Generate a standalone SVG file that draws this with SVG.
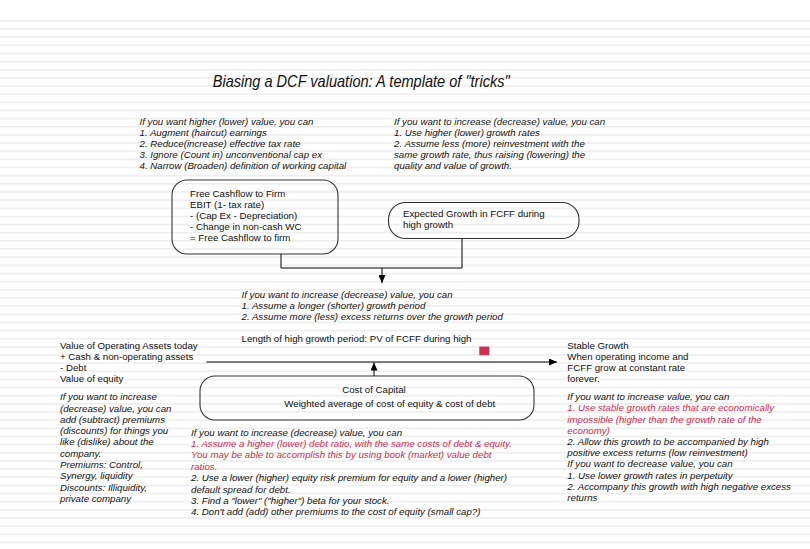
<svg xmlns="http://www.w3.org/2000/svg" width="810" height="549" viewBox="0 0 810 549">
<defs>
<pattern id="stripes" x="0" y="20" width="810" height="8.15" patternUnits="userSpaceOnUse">
<rect x="0" y="0" width="810" height="1.6" fill="#ededed"/>
</pattern>
<marker id="arr" markerUnits="userSpaceOnUse" markerWidth="8" markerHeight="7" refX="8" refY="3.5" orient="auto">
<path d="M0,0 L8,3.5 L0,7 Z" fill="#000"/>
</marker>
<style>
text{font-family:"Liberation Sans",Arial,sans-serif;font-size:9.7px;fill:#111}
.it{font-style:italic}
.red{fill:#cf2a4e}
.box{fill:none;stroke:#333;stroke-width:1.1}
.con{fill:none;stroke:#000;stroke-width:1}
</style>
</defs>
<rect x="0" y="0" width="810" height="549" fill="#fff"/>
<rect x="0" y="20" width="810" height="526" fill="url(#stripes)"/>

<text x="212.7" y="87.3" class="it" style="font-size:17px" textLength="297" lengthAdjust="spacingAndGlyphs">Biasing a DCF valuation: A template of "tricks"</text>

<g id="note-fcff" class="it">
<text x="139.5" y="125" class="it">If you want higher (lower) value, you can</text>
<text x="139.5" y="135.9" class="it">1. Augment (haircut) earnings</text>
<text x="139.5" y="146.8" class="it">2. Reduce(increase) effective tax rate</text>
<text x="139.5" y="157.7" class="it">3. Ignore (Count in) unconventional cap ex</text>
<text x="139.5" y="168.6" class="it">4. Narrow (Broaden) definition of working capital</text>
</g>

<g id="note-growth">
<text x="394" y="125" class="it">If you want to increase (decrease) value, you can</text>
<text x="394" y="135.9" class="it">1. Use higher (lower) growth rates</text>
<text x="394" y="146.8" class="it">2. Assume less (more) reinvestment with the</text>
<text x="394" y="157.7" class="it">same growth rate, thus raising (lowering) the</text>
<text x="394" y="168.6" class="it">quality and value of growth.</text>
</g>

<g id="fcff">
<rect x="172" y="180" width="166" height="74" rx="15" ry="15" class="box"/>
<text x="190" y="196.7">Free Cashflow to Firm</text>
<text x="190" y="207.7">EBIT (1- tax rate)</text>
<text x="190" y="218.7">- (Cap Ex - Depreciation)</text>
<text x="190" y="229.7">- Change in non-cash WC</text>
<text x="190" y="240.7">= Free Cashflow to firm</text>
</g>

<g id="growth">
<rect x="388.5" y="202.5" width="190.5" height="36" rx="17" ry="17" class="box"/>
<text x="403" y="216.5">Expected Growth in FCFF during</text>
<text x="403" y="227.5">high growth</text>
</g>

<g id="note-period">
<text x="241.5" y="298.3" class="it">If you want to increase (decrease) value, you can</text>
<text x="241.5" y="309.1" class="it">1. Assume a longer (shorter) growth period</text>
<text x="241.5" y="319.9" class="it">2. Assume more (less) excess returns over the growth period</text>
<text x="241.5" y="342">Length of high growth period: PV of FCFF during high</text>
<rect x="479.3" y="346.6" width="10" height="8.6" fill="#d0304e"/>
</g>

<g id="equity">
<text x="60" y="349">Value of Operating Assets today</text>
<text x="60" y="360.1">+ Cash &amp; non-operating assets</text>
<text x="60" y="371.2">- Debt</text>
<text x="60" y="382.3">Value of equity</text>
<text x="60" y="400.3" class="it">If you want to increase</text>
<text x="60" y="411.6" class="it">(decrease) value, you can</text>
<text x="60" y="422.8" class="it">add (subtract) premiums</text>
<text x="60" y="434.1" class="it">(discounts) for things you</text>
<text x="60" y="445.4" class="it">like (dislike) about the</text>
<text x="60" y="456.7" class="it">company.</text>
<text x="60" y="467.9" class="it">Premiums: Control,</text>
<text x="60" y="479.2" class="it">Synergy, liquidity</text>
<text x="60" y="490.5" class="it">Discounts: Illiquidity,</text>
<text x="60" y="501.7" class="it">private company</text>
</g>

<g id="stable">
<text x="567.3" y="349">Stable Growth</text>
<text x="567.3" y="360.1">When operating income and</text>
<text x="567.3" y="371.2">FCFF grow at constant rate</text>
<text x="567.3" y="382.3">forever.</text>
<text x="567.3" y="400.2" class="it">If you want to increase value, you can</text>
<text x="567.3" y="411.4" class="it red">1. Use stable growth rates that are economically</text>
<text x="567.3" y="422.6" class="it red">impossible (higher than the growth rate of the</text>
<text x="567.3" y="433.8" class="it red">economy)</text>
<text x="567.3" y="445" class="it">2. Allow this growth to be accompanied by high</text>
<text x="567.3" y="456.2" class="it">positive excess returns (low reinvestment)</text>
<text x="567.3" y="467.4" class="it">If you want to decrease value, you can</text>
<text x="567.3" y="478.6" class="it">1. Use lower growth rates in perpetuity</text>
<text x="567.3" y="489.8" class="it">2. Accompany this growth with high negative excess</text>
<text x="567.3" y="501" class="it">returns</text>
</g>

<g id="cost">
<rect x="200" y="376" width="334" height="44" rx="15" ry="15" class="box"/>
<text x="374" y="392.7" text-anchor="middle">Cost of Capital</text>
<text x="284.3" y="406.7">Weighted average of cost of equity &amp; cost of debt</text>
</g>

<g id="note-cost">
<text x="191" y="435.5" class="it">If you want to increase (decrease) value, you can</text>
<text x="191" y="446.9" class="it red">1. Assume a higher (lower) debt ratio, with the same costs of debt &amp; equity.</text>
<text x="191" y="458.3" class="it red">You may be able to accomplish this by using book (market) value debt</text>
<text x="191" y="469.7" class="it red">ratios.</text>
<text x="191" y="481.1" class="it">2. Use a lower (higher) equity risk premium for equity and a lower (higher)</text>
<text x="191" y="492.5" class="it">default spread for debt.</text>
<text x="191" y="503.9" class="it">3. Find a "lower" ("higher") beta for your stock.</text>
<text x="191" y="515.3" class="it">4. Don't add (add) other premiums to the cost of equity (small cap?)</text>
</g>

<g id="connectors">
<path d="M281,254 V268 H462 V238.5" class="con"/>
<path d="M382,268 V283" class="con" marker-end="url(#arr)"/>
<path d="M206.5,362 H557" class="con" marker-end="url(#arr)"/>
<path d="M374,376 V362.5" class="con" marker-end="url(#arr)"/>
</g>
</svg>
